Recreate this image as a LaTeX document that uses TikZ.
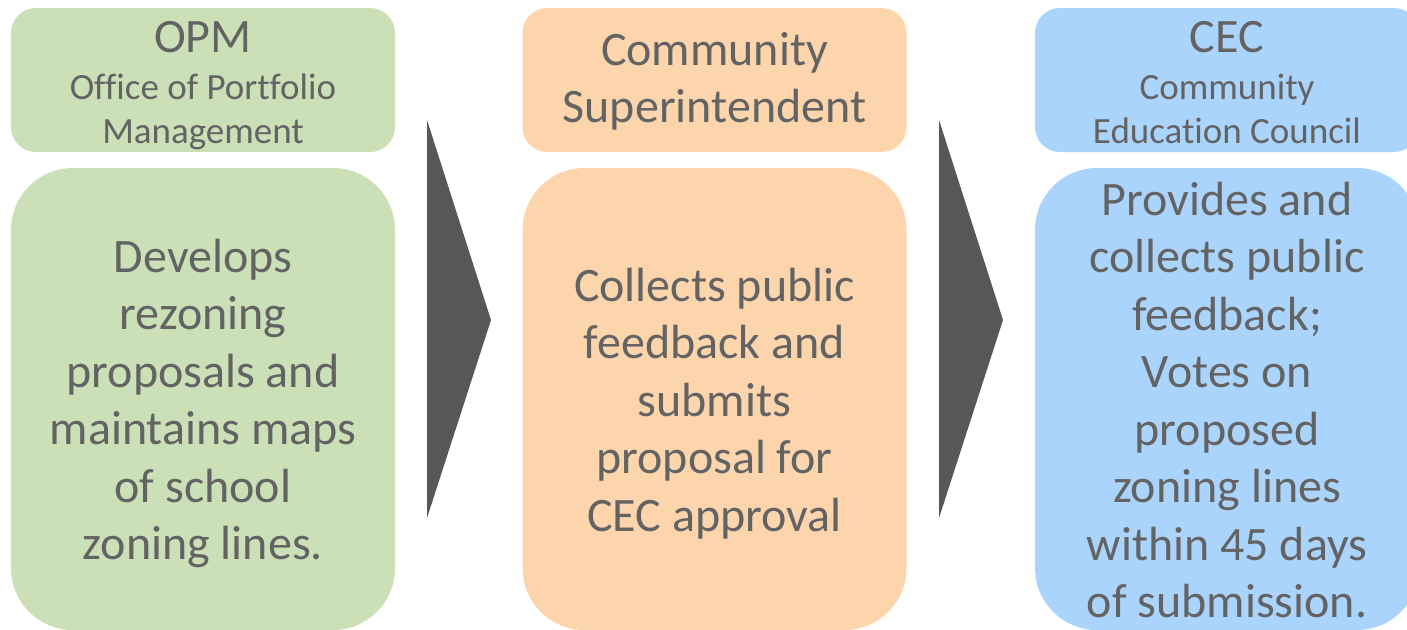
\documentclass[tikz,border=0pt]{standalone}
\usepackage{fontspec}
\setmainfont[Ligatures=NoCommon]{Carlito}
\definecolor{gfill}{HTML}{CCE0B8}
\definecolor{ofill}{HTML}{FDD5AD}
\definecolor{bfill}{HTML}{ABD4FC}
\definecolor{txt}{HTML}{636363}
\definecolor{arr}{HTML}{575757}
\tikzset{
  topbox/.style={rectangle, rounded corners=25pt, minimum width=384pt, minimum height=144pt, inner sep=0pt, draw=none},
  botbox/.style={rectangle, rounded corners=62pt, minimum width=384pt, minimum height=462pt, inner sep=0pt, draw=none},
  bigtxt/.style={text=txt, anchor=base, align=flush center, text width=380pt, inner sep=0pt, font=\fontsize{48}{57.5}\selectfont},
  smalltxt/.style={text=txt, anchor=base, align=flush center, text width=380pt, inner sep=0pt, font=\fontsize{37}{44}\selectfont},
  chev/.style={fill=arr, draw=none}
}
\begin{document}
\begin{tikzpicture}[x=1pt,y=-1pt]
\clip (0,0) rectangle (1407,629);
\fill[white] (0,0) rectangle (1407,629);
% boxes
\node[topbox, fill=gfill] (g1) at (203,80) {};
\node[botbox, fill=gfill] (g2) at (203,399) {};
\node[topbox, fill=ofill] (o1) at (714.5,80) {};
\node[botbox, fill=ofill] (o2) at (714.5,399) {};
\node[topbox, fill=bfill] (b1) at (1227,80) {};
\node[botbox, fill=bfill] (b2) at (1227,399) {};
% arrows
\fill[chev] (427,120) -- (491,320) -- (427,518) -- cycle;
\fill[chev] (939,120) -- (1003,320) -- (939,518) -- cycle;
% texts
\node[bigtxt] (g1t) at (203,52) {OPM};
\node[smalltxt] (g1s) at (203,99) {Office of Portfolio\\Management};
\node[bigtxt] (o1t) at (714.5,65) {Community\\Superintendent};
\node[bigtxt] (b1t) at (1227,52) {CEC};
\node[smalltxt] (b1s) at (1227,99) {Community\\Education Council};
\node[bigtxt] (g2t) at (203,272) {Develops\\rezoning\\proposals and\\maintains maps\\of school\\zoning lines.};
\node[bigtxt] (o2t) at (714.5,301) {Collects public\\feedback and\\submits\\proposal for\\CEC approval};
\node[bigtxt] (b2t) at (1227,215) {Provides and\\collects public\\feedback;\\Votes on\\proposed\\zoning lines\\within 45 days\\of submission.};
\end{tikzpicture}
\end{document}
